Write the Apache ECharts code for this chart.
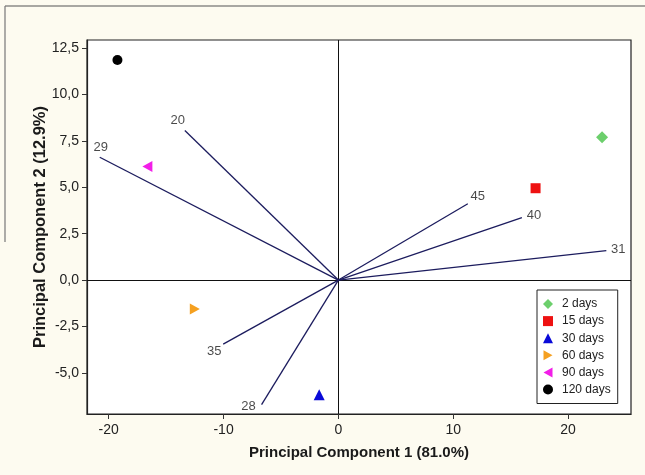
<!DOCTYPE html>
<html>
<head>
<meta charset="utf-8">
<script src="https://cdn.jsdelivr.net/npm/echarts@6/dist/echarts.min.js"></script>
<style>
html,body{margin:0;padding:0;background:#fdfbf0;}
#chart{width:645px;height:475px;}
</style>
</head>
<body>
<div id="chart"></div>
<script>
// ---- data ----
const groupNames = ['2 days', '15 days', '30 days', '60 days', '90 days', '120 days'];
const groupPc1 = [22.96, 17.17, -1.67, -12.50, -16.63, -19.24];
const groupPc2 = [7.70, 4.95, -6.18, -1.56, 6.12, 11.86];

const loadingNames = ['20', '29', '35', '28', '45', '40', '31'];
const loadingPc1 = [-13.37, -20.78, -10.03, -6.69, 11.27, 15.98, 23.33];
const loadingPc2 = [8.06, 6.62, -3.45, -6.71, 4.11, 3.37, 1.59];

const xTickValues = [-20, -10, 0, 10, 20];
const yTickValues = [-5, -2.5, 0, 2.5, 5, 7.5, 10, 12.5];

// ---- styles ----
const triRight = 'path://M0,0 L9,5 L0,10 Z';
const triLeft = 'path://M9,0 L0,5 L9,10 Z';
const groupStyles = [
  { symbol: 'diamond', color: '#6ccf6c', size: 12 },
  { symbol: 'rect', color: '#ee1111', size: 10 },
  { symbol: 'triangle', color: '#0a0ad8', size: 11 },
  { symbol: triRight, color: '#f5a020', size: [10, 11] },
  { symbol: triLeft, color: '#f21ee8', size: [10, 11] },
  { symbol: 'circle', color: '#000000', size: 10 }
];
const labelOffsets = {
  '20': [-7, -10], '29': [1, -10], '35': [-9, 7], '28': [-13, 2],
  '45': [10, -7], '40': [12, -2], '31': [12, -1]
};

const series = [];
loadingNames.forEach((name, i) => {
  series.push({
    name: 'v' + name,
    type: 'line',
    silent: true,
    symbol: 'none',
    z: 2,
    lineStyle: { color: '#1c1c5e', width: 1.3 },
    data: [[0, 0], [loadingPc1[i], loadingPc2[i]]]
  });
});
series.push({
  name: 'vectorLabels',
  type: 'scatter',
  silent: true,
  symbolSize: 0,
  z: 3,
  data: loadingNames.map((name, i) => ({
    value: [loadingPc1[i], loadingPc2[i]],
    label: {
      show: true,
      position: 'inside',
      offset: labelOffsets[name],
      formatter: name,
      color: '#1a1a1a',
      fontSize: 13,
      fontFamily: 'Liberation Sans'
    }
  }))
});
groupNames.forEach((name, i) => {
  const st = groupStyles[i];
  const s = {
    name: name,
    type: 'scatter',
    symbol: st.symbol,
    symbolSize: st.size,
    z: 4,
    itemStyle: { color: st.color, opacity: 1 },
    data: [[groupPc1[i], groupPc2[i]]]
  };
  if (i === 0) {
    s.markLine = {
      silent: true,
      symbol: 'none',
      label: { show: false },
      lineStyle: { color: '#111', width: 1, type: 'solid' },
      data: [{ xAxis: 0 }, { yAxis: 0 }],
      z: 1
    };
  }
  series.push(s);
});

const chart = echarts.init(document.getElementById('chart'));
chart.setOption({
  backgroundColor: '#fdfbf0',
  animation: false,
  grid: {
    left: 87, right: 14, top: 40, bottom: 61,
    show: true, backgroundColor: '#ffffff', borderColor: '#222', borderWidth: 1.2
  },
  xAxis: {
    type: 'value',
    min: -21.89, max: 25.48,
    name: 'Principal Component 1 (81.0%)',
    nameLocation: 'middle',
    nameGap: 31,
    nameMoveOverlap: false,
    nameTextStyle: { fontFamily: 'Liberation Sans', fontWeight: 'bold', fontSize: 15, color: '#1a1a1a' },
    splitLine: { show: false },
    axisLine: { show: true, onZero: false, lineStyle: { color: '#222', width: 1.2 } },
    axisTick: { show: true, inside: false, length: 5, customValues: xTickValues, lineStyle: { color: '#333' } },
    axisLabel: {
      customValues: xTickValues, margin: 9,
      fontFamily: 'Liberation Sans', fontSize: 14, color: '#222',
      formatter: v => String(v)
    }
  },
  yAxis: {
    type: 'value',
    min: -7.22, max: 12.94,
    name: 'Principal Component 2 (12.9%)',
    nameLocation: 'middle',
    nameGap: 38,
    nameMoveOverlap: false,
    nameTextStyle: { fontFamily: 'Liberation Sans', fontWeight: 'bold', fontSize: 16.5, color: '#1a1a1a' },
    splitLine: { show: false },
    axisLine: { show: true, onZero: false, lineStyle: { color: '#222', width: 1.2 } },
    axisTick: { show: true, inside: false, length: 5, customValues: yTickValues, lineStyle: { color: '#333' } },
    axisLabel: {
      customValues: yTickValues, margin: 8,
      fontFamily: 'Liberation Sans', fontSize: 14, color: '#222',
      formatter: v => v.toFixed(1).replace('.', ',')
    }
  },
  legend: {
    data: groupNames,
    orient: 'vertical',
    left: 537, top: 290,
    backgroundColor: '#ffffff',
    borderColor: '#222', borderWidth: 1,
    padding: [8, 7, 8, 6],
    itemWidth: 10, itemHeight: 10, itemGap: 5.1,
    textStyle: { fontFamily: 'Liberation Sans', fontSize: 12, color: '#222', padding: [0, 0, 0, 4] }
  },
  graphic: [
    { type: 'line', shape: { x1: 5, y1: 6, x2: 645, y2: 6 }, style: { stroke: '#555', lineWidth: 1.2 }, silent: true },
    { type: 'line', shape: { x1: 5, y1: 6, x2: 5, y2: 242 }, style: { stroke: '#777', lineWidth: 1.2 }, silent: true }
  ],
  series: series
});
</script>
</body>
</html>
